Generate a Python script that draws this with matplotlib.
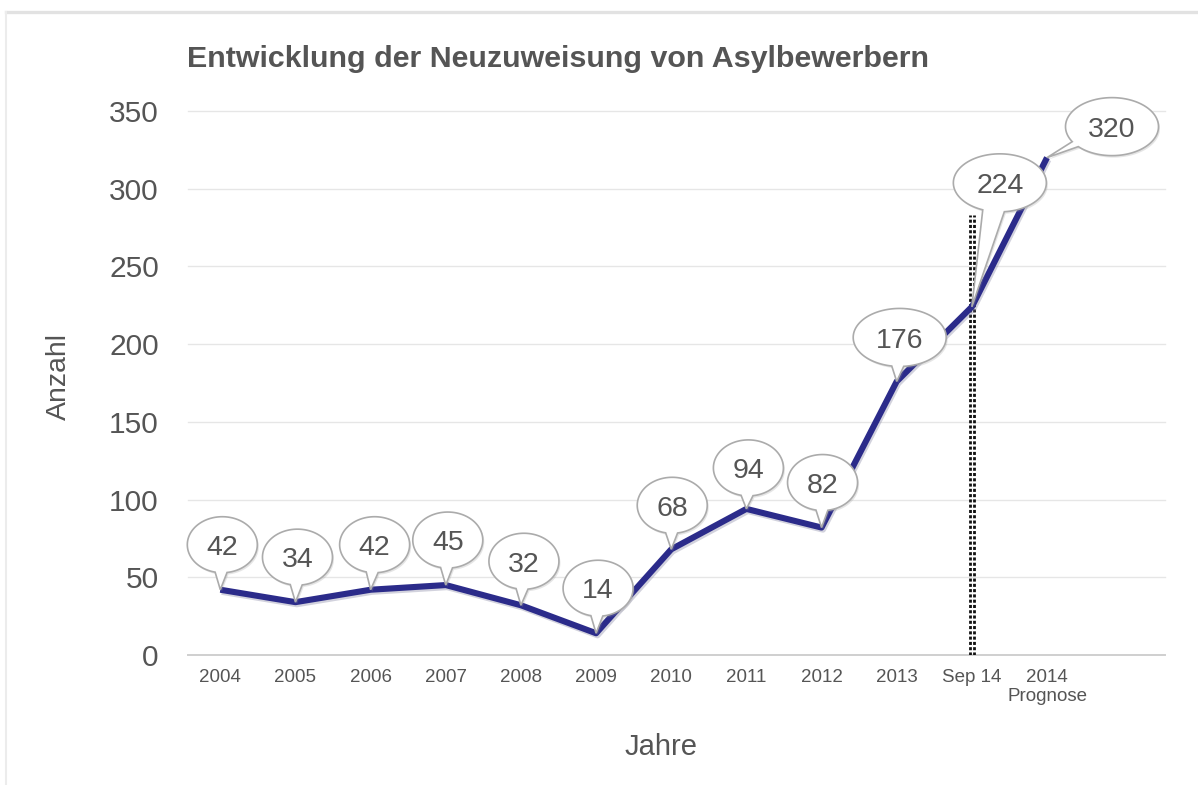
import numpy as np
import matplotlib
matplotlib.use("Agg")
import matplotlib.pyplot as plt
from matplotlib.path import Path
from matplotlib.patches import PathPatch
from matplotlib.lines import Line2D
import matplotlib.transforms as mtransforms
import matplotlib.patheffects as pe

# ---------------- data ----------------
categories = ['2004', '2005', '2006', '2007', '2008', '2009', '2010',
              '2011', '2012', '2013', 'Sep 14', '2014\nPrognose']
values = [42, 34, 42, 45, 32, 14, 68, 94, 82, 176, 224, 320]
y_ticks = [0, 50, 100, 150, 200, 250, 300, 350]
title = 'Entwicklung der Neuzuweisung von Asylbewerbern'
x_label = 'Jahre'
y_label = 'Anzahl'
marker_index = 10          # dotted vertical line at "Sep 14"
marker_top = 283

# bubble placement (pixel offsets from the data point) and sizes
bubble_offsets = [(2, 45), (2, 45), (4, 45), (2, 45), (3, 44), (2, 45),
                  (1, 44), (2, 41), (1, 45), (3, 44), (28, 124), (65, 31)]
bubble_tail_half = [6, 6, 6, 6, 6, 6, 6, 6, 6, 6, 11, 5]

plt.rcParams['font.family'] = ['Liberation Sans', 'DejaVu Sans']

W, H = 1198, 785
DPI = 100
fig = plt.figure(figsize=(W / DPI, H / DPI), dpi=DPI)
fig.patch.set_facecolor('white')

# axes in pixel terms
left, right, top, bottom = 188, 1165, 111, 655
ax = fig.add_axes([left / W, 1 - bottom / H, (right - left) / W, (bottom - top) / H])
ax.set_facecolor('white')
ax.set_xlim(-0.43, 12.57)
ax.set_ylim(0, 350)
for s in ax.spines.values():
    s.set_visible(False)

# gridlines
for yv in y_ticks:
    ax.axhline(yv, color='#cfcfcf' if yv == 0 else '#e6e6e6',
               lw=1.4 if yv == 0 else 1.0, zorder=0, clip_on=False)

x = np.arange(len(categories))
ax.set_xticks(x)
ax.set_xticklabels(categories, fontsize=13.5, color='#555555',
                   multialignment='center', linespacing=1.15)
ax.set_yticks(y_ticks)
ax.set_yticklabels([str(v) for v in y_ticks], fontsize=21.5, color='#555555')
ax.tick_params(axis='x', length=0, pad=10)
ax.tick_params(axis='y', length=0, pad=21)

# dotted vertical marker (double dotted column)
off = 2.0 / ((right - left) / (12.57 + 0.43))
for d in (-off, off):
    ax.plot([marker_index + d, marker_index + d], [0, marker_top],
            color='#111111', lw=2.0, linestyle=(0, (1.1, 0.8)),
            zorder=2, solid_capstyle='butt', dash_capstyle='butt')

# main line
ax.plot(x, values, color='#2b2b8a', lw=4.4, zorder=3, solid_joinstyle='round',
        solid_capstyle='butt', clip_on=False,
        path_effects=[pe.SimpleLineShadow(offset=(1, -1.5), shadow_color='#8080a0',
                                          alpha=0.35), pe.Normal()])


def bubble_path(cx, cy, a, b, half):
    phi = np.arctan2(-cy / b, -cx / a)
    delta = half / a
    t = np.linspace(phi + delta, phi + 2 * np.pi - delta, 160)
    verts = [(cx + a * np.cos(tt), cy + b * np.sin(tt)) for tt in t]
    verts.append((0.0, 0.0))
    verts.append(verts[0])
    codes = [Path.MOVETO] + [Path.LINETO] * (len(verts) - 2) + [Path.CLOSEPOLY]
    return Path(verts, codes)


for i, (xi, v) in enumerate(zip(x, values)):
    dx, dy = bubble_offsets[i]
    label = str(v)
    a = 46.5 if len(label) == 3 else 35
    b = 29 if len(label) == 3 else 28
    path = bubble_path(dx, dy, a, b, bubble_tail_half[i])
    tr = mtransforms.Affine2D() + mtransforms.ScaledTranslation(xi, v, ax.transData)
    sh_tr = mtransforms.Affine2D().translate(1.5, -2) + \
        mtransforms.ScaledTranslation(xi, v, ax.transData)
    ax.add_patch(PathPatch(path, transform=sh_tr, facecolor='#9a9a9a', alpha=0.25,
                           edgecolor='none', zorder=4, clip_on=False))
    ax.add_patch(PathPatch(path, transform=tr, facecolor='white', edgecolor='#ababab',
                           lw=1.2, zorder=5, clip_on=False))
    fs = 20.5
    em_px = fs * DPI / 72
    ax.annotate(label, xy=(xi, v), xytext=(dx, dy - 0.36 * em_px),
                textcoords='offset pixels', ha='center', va='baseline',
                fontsize=fs, color='#555555', zorder=6, annotation_clip=False)

# texts
fig.text(187 / W, 1 - 67 / H, title, fontsize=21.9, fontweight='bold',
         color='#555555', ha='left', va='baseline')
fig.text(59 / W, 1 - 377 / H, y_label, rotation=90, fontsize=20.5,
         color='#555555', ha='center', va='center')
fig.text(661 / W, 1 - 755 / H, x_label, fontsize=21, color='#555555',
         ha='center', va='baseline')

# outer frame lines
fig.add_artist(Line2D([6 / W, 1], [1 - 11.5 / H, 1 - 11.5 / H],
                      transform=fig.transFigure, color='#e2e2e2', lw=2.4))
fig.add_artist(Line2D([6 / W, 6 / W], [0, 1 - 11.5 / H],
                      transform=fig.transFigure, color='#ececec', lw=1.5))

fig.savefig('out.png', dpi=DPI, facecolor='white')
